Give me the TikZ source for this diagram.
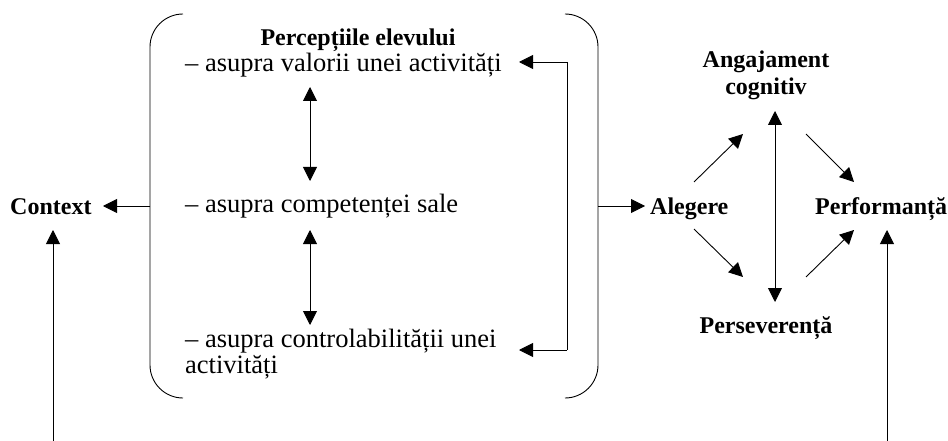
\documentclass[tikz,border=0pt]{standalone}
\usepackage{fontspec}
\setmainfont{Liberation Serif}
\usetikzlibrary{arrows.meta}
\begin{document}
\begin{tikzpicture}[x=1pt,y=-1pt,
  txt/.style={inner sep=0pt,font=\fontsize{26.5}{26}\selectfont},
  btxt/.style={inner sep=0pt,font=\fontsize{24}{27}\selectfont\bfseries},
  conn/.style={line width=0.9pt},
  arr/.style={conn,-{Triangle[length=14pt,width=14pt]}},
  darr/.style={conn,{Triangle[length=14pt,width=14pt]}-{Triangle[length=14pt,width=14pt]}}]
\useasboundingbox (0,0) rectangle (948,441);
% text nodes
\node[btxt,anchor=base west] (context) at (10,214) {Context};
\node[btxt,anchor=base] (perc) at (358,46) {Percepțiile elevului};
\node[txt,anchor=base west] (val) at (185,72) {– asupra valorii unei activități};
\node[txt,anchor=base west] (comp) at (185,212) {– asupra competenței sale};
\node[txt,anchor=base west,align=left] (ctrl) at (185,373) {– asupra controlabilității unei\\activități};
\node[btxt,anchor=base west] (aleg) at (650,214) {Alegere};
\node[btxt,anchor=base west] (perf) at (815,214) {Performanță};
\node[btxt,anchor=base,align=center] (anga) at (766,95) {Angajament\\cognitiv};
\node[btxt,anchor=base] (pers) at (766,333) {Perseverență};
% brackets
\coordinate (lbt) at (183,14);
\coordinate (lbm) at (150,206);
\coordinate (lbb) at (183,398);
\draw[conn,rounded corners=33pt] (lbt) -- (150,14) -- (150,398) -- (lbb);
\coordinate (rbt) at (566,14);
\coordinate (rbm) at (598,206);
\coordinate (rbb) at (566,398);
\draw[conn,rounded corners=33pt] (rbt) -- (598,14) -- (598,398) -- (rbb);
% connectors
\coordinate (ctxtip) at (103,206);
\draw[arr] (lbm) -- (ctxtip);
\coordinate (alegtip) at (645,206);
\draw[arr] (rbm) -- (alegtip);
\coordinate (ctxsrc) at (53,441);
\coordinate (ctxin) at (53,230);
\draw[arr] (ctxsrc) -- (ctxin);
\coordinate (v1a) at (310,87);
\coordinate (v1b) at (310,181);
\draw[darr] (v1a) -- (v1b);
\coordinate (v2a) at (310,230);
\coordinate (v2b) at (310,325);
\draw[darr] (v2a) -- (v2b);
\coordinate (fbt) at (567,62);
\coordinate (fbb) at (567,350);
\coordinate (fbtt) at (519,62);
\coordinate (fbbt) at (519,350);
\draw[conn] (fbt) -- (fbb);
\draw[arr] (fbt) -- (fbtt);
\draw[arr] (fbb) -- (fbbt);
% diamond
\coordinate (a1) at (694,182); \coordinate (a2) at (743,134);
\coordinate (b1) at (694,229); \coordinate (b2) at (743,277);
\coordinate (c1) at (806,134); \coordinate (c2) at (854,182);
\coordinate (d1) at (806,277); \coordinate (d2) at (854,230);
\draw[arr] (a1) -- (a2);
\draw[arr] (b1) -- (b2);
\draw[arr] (c1) -- (c2);
\draw[arr] (d1) -- (d2);
\coordinate (va) at (775,111); \coordinate (vb) at (775,302);
\draw[darr] (va) -- (vb);
\coordinate (perfsrc) at (887,441); \coordinate (perfin) at (887,230);
\draw[arr] (perfsrc) -- (perfin);
\end{tikzpicture}
\end{document}
